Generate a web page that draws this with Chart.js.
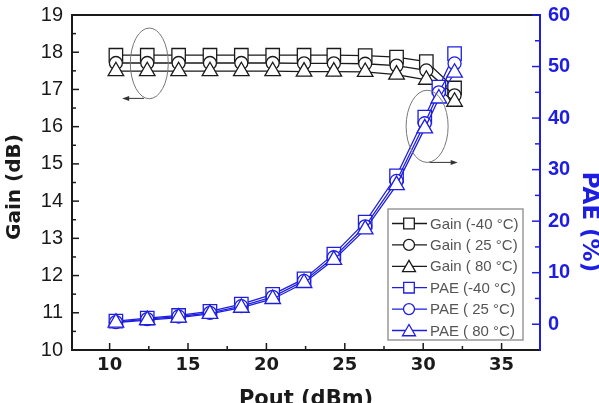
<!DOCTYPE html>
<html>
<head>
<meta charset="utf-8">
<script src="https://cdn.jsdelivr.net/npm/chart.js@4"></script>
<style>
  html, body { margin: 0; padding: 0; background: #fff; }
  #wrap { width: 599px; height: 403px; }
</style>
</head>
<body>
<div id="wrap"><canvas id="chart" width="599" height="403"></canvas></div>
<script>
// Pout (dBm) where gain was sampled, and gain (dB) per temperature
const gainPout = [10.4, 12.4, 14.4, 16.4, 18.4, 20.4, 22.4, 24.3, 26.3, 28.3, 30.2, 32.0];
const gainM40 = [17.92, 17.92, 17.92, 17.92, 17.92, 17.92, 17.92, 17.92, 17.91, 17.87, 17.75, 17.04];
const gain25 = [17.71, 17.71, 17.71, 17.71, 17.71, 17.71, 17.70, 17.70, 17.69, 17.64, 17.51, 16.84];
const gain80 = [17.49, 17.49, 17.49, 17.49, 17.49, 17.49, 17.48, 17.48, 17.47, 17.40, 17.26, 16.67];

// Pout (dBm) where PAE was sampled, and PAE (%) per temperature
const paePout = [10.4, 12.4, 14.4, 16.4, 18.4, 20.4, 22.4, 24.3, 26.3, 28.3, 30.1, 31.0, 32.0];
const paeM40 = [0.6, 1.2, 1.7, 2.5, 3.9, 5.8, 8.8, 13.6, 19.8, 28.8, 40.2, 46.0, 52.5];
const pae25 = [0.4, 1.0, 1.5, 2.2, 3.5, 5.3, 8.4, 13.0, 19.0, 27.8, 39.0, 45.0, 50.6];
const pae80 = [0.3, 0.8, 1.3, 2.0, 3.2, 4.9, 8.0, 12.5, 18.4, 27.0, 38.0, 43.8, 48.8];

const xTicks = [10, 15, 20, 25, 30, 35];
const gainTicks = [10, 11, 12, 13, 14, 15, 16, 17, 18, 19];
const paeTicks = [0, 10, 20, 30, 40, 50, 60];

const seriesLabels = ["Gain (-40 °C)", "Gain ( 25 °C)", "Gain ( 80 °C)",
                      "PAE (-40 °C)", "PAE ( 25 °C)", "PAE ( 80 °C)"];

const BLACK = "#1a1a1a";
const BLUE = "#1e1ee0";
const STYLES = ["rect", "circle", "triangle"];
const RADIUS = { rect: 9.5, circle: 6.5, triangle: 9 };

// callouts: ellipse round a group of curves, arrow toward its axis
const notes = [
  { axis: "y", cx: 12.53, cy: 17.7, rx: 1.21, ry: 0.95, ax0: 12.2, ax1: 10.8, ay: 16.76 },
  { axis: "y1", cx: 30.25, cy: 38.4, rx: 1.34, ry: 7.0, ax0: 30.4, ax1: 32.2, ay: 31.4 },
];

const pts = (xs, ys) => xs.map((x, i) => ({ x, y: ys[i] }));

// order: lower is painted later, so triangles sit on top and PAE over gain
function ds(label, xs, ys, color, style, axis, order) {
  return {
    label, data: pts(xs, ys), yAxisID: axis, order,
    borderColor: color, borderWidth: 1.3, tension: 0,
    pointStyle: style, pointRadius: RADIUS[style], pointHoverRadius: RADIUS[style],
    pointBackgroundColor: "#fff", pointBorderColor: color, pointBorderWidth: 1.3,
  };
}

function shape(ctx, style, x, y, r) {
  ctx.beginPath();
  if (style === "rect") {
    const s = r * Math.SQRT1_2;
    ctx.rect(x - s, y - s, 2 * s, 2 * s);
  } else if (style === "circle") {
    ctx.arc(x, y, r, 0, Math.PI * 2);
  } else {
    let a = 0;
    ctx.moveTo(x + Math.sin(a) * r, y - Math.cos(a) * r);
    a += Math.PI * 2 / 3;
    ctx.lineTo(x + Math.sin(a) * r, y - Math.cos(a) * r);
    a += Math.PI * 2 / 3;
    ctx.lineTo(x + Math.sin(a) * r, y - Math.cos(a) * r);
    ctx.closePath();
  }
}

function tickMarks(ctx, scale, values, len, side) {
  const a = scale.chart.chartArea;
  values.forEach((v) => {
    const p = scale.getPixelForValue(v);
    ctx.beginPath();
    if (side === "bottom") { ctx.moveTo(p, a.bottom); ctx.lineTo(p, a.bottom - len); }
    else if (side === "left") { ctx.moveTo(a.left, p); ctx.lineTo(a.left + len, p); }
    else { ctx.moveTo(a.right, p); ctx.lineTo(a.right - len, p); }
    ctx.stroke();
  });
}

const halves = (ticks) => ticks.slice(0, -1).map((t, i) => (t + ticks[i + 1]) / 2);

const decor = {
  id: "decor",
  afterDraw(chart) {
    const { ctx, chartArea: a, scales: { x, y, y1 } } = chart;
    ctx.save();

    // top frame line
    ctx.strokeStyle = BLACK;
    ctx.lineWidth = 2;
    ctx.beginPath();
    ctx.moveTo(a.left - 1, a.top);
    ctx.lineTo(a.right, a.top);
    ctx.stroke();

    // inward ticks
    ctx.lineWidth = 1.5;
    tickMarks(ctx, x, xTicks, 7, "bottom");
    tickMarks(ctx, x, halves(xTicks), 4, "bottom");
    tickMarks(ctx, y, gainTicks, 7, "left");
    tickMarks(ctx, y, halves(gainTicks), 4, "left");
    ctx.strokeStyle = BLUE;
    tickMarks(ctx, y1, paeTicks, 8, "right");
    tickMarks(ctx, y1, halves(paeTicks), 5, "right");

    // callouts
    ctx.fillStyle = "#333";
    ctx.lineWidth = 1;
    notes.forEach((n) => {
      const ys = chart.scales[n.axis];
      const cx = x.getPixelForValue(n.cx), cy = ys.getPixelForValue(n.cy);
      const rx = Math.abs(x.getPixelForValue(n.cx + n.rx) - cx);
      const ry = Math.abs(ys.getPixelForValue(n.cy + n.ry) - cy);
      ctx.strokeStyle = "#777";
      ctx.beginPath();
      ctx.ellipse(cx, cy, rx, ry, 0, 0, Math.PI * 2);
      ctx.stroke();
      const x0 = x.getPixelForValue(n.ax0), x1 = x.getPixelForValue(n.ax1);
      const ay = ys.getPixelForValue(n.ay);
      const dir = Math.sign(x1 - x0);
      ctx.strokeStyle = "#333";
      ctx.beginPath();
      ctx.moveTo(x0, ay);
      ctx.lineTo(x1 - dir * 5, ay);
      ctx.stroke();
      ctx.beginPath();
      ctx.moveTo(x1, ay);
      ctx.lineTo(x1 - dir * 7, ay - 2.5);
      ctx.lineTo(x1 - dir * 7, ay + 2.5);
      ctx.closePath();
      ctx.fill();
    });

    // legend box
    const bw = 135, bh = 131;
    const bx = a.right - 17 - bw, by = a.bottom - 10 - bh;
    ctx.fillStyle = "#fff";
    ctx.fillRect(bx, by, bw, bh);
    ctx.strokeStyle = "#999";
    ctx.lineWidth = 1.5;
    ctx.strokeRect(bx, by, bw, bh);
    ctx.font = "15px 'Liberation Sans', Arial, sans-serif";
    ctx.textBaseline = "middle";
    seriesLabels.forEach((label, i) => {
      const color = i < 3 ? BLACK : BLUE;
      const style = STYLES[i % 3];
      const ry = by + 14.5 + i * 21.4;
      ctx.strokeStyle = color;
      ctx.lineWidth = 1.3;
      ctx.beginPath();
      ctx.moveTo(bx + 4, ry);
      ctx.lineTo(bx + 39, ry);
      ctx.stroke();
      const r = { rect: 7.5, circle: 5.5, triangle: 7.5 }[style];
      shape(ctx, style, bx + 21, ry + (style === "triangle" ? 1.5 : 0), r);
      ctx.fillStyle = "#fff";
      ctx.fill();
      ctx.stroke();
      ctx.fillStyle = "#555";
      ctx.fillText(label, bx + 42, ry + 1);
    });

    // axis titles
    ctx.fillStyle = BLACK;
    ctx.textAlign = "center";
    ctx.font = "bold 20px 'DejaVu Sans', sans-serif";
    ctx.save();
    ctx.translate(15, 187);
    ctx.rotate(-Math.PI / 2);
    ctx.fillText("Gain (dB)", 0, 0);
    ctx.restore();
    ctx.font = "bold 21px 'DejaVu Sans', sans-serif";
    ctx.fillText("Pout (dBm)", (a.left + a.right) / 2, 400);
    ctx.fillStyle = BLUE;
    ctx.font = "bold 23px 'DejaVu Sans', sans-serif";
    ctx.save();
    ctx.translate(589, 222);
    ctx.rotate(Math.PI / 2);
    ctx.fillText("PAE (%)", 0, 0);
    ctx.restore();

    ctx.restore();
  },
};

const fixTicks = (vals) => (scale) => { scale.ticks = vals.map((v) => ({ value: v })); };
const fitV = (w) => (s) => { s.width = w; s.paddingTop = 0; s.paddingBottom = 0; };
const fitH = (h) => (s) => { s.height = h; s.paddingLeft = 0; s.paddingRight = 0; };
const noGrid = { display: false, drawTicks: false, tickLength: 0 };

new Chart(document.getElementById("chart"), {
  type: "line",
  data: {
    datasets: [
      ds(seriesLabels[0], gainPout, gainM40, BLACK, "rect", "y", 5),
      ds(seriesLabels[1], gainPout, gain25, BLACK, "circle", "y", 4),
      ds(seriesLabels[2], gainPout, gain80, BLACK, "triangle", "y", 3),
      ds(seriesLabels[3], paePout, paeM40, BLUE, "rect", "y1", 2),
      ds(seriesLabels[4], paePout, pae25, BLUE, "circle", "y1", 1),
      ds(seriesLabels[5], paePout, pae80, BLUE, "triangle", "y1", 0),
    ],
  },
  options: {
    responsive: false, animation: false, devicePixelRatio: 1,
    layout: { padding: { top: 15, left: 0, right: 0, bottom: 0 } },
    plugins: { legend: { display: false }, tooltip: { enabled: false } },
    scales: {
      x: {
        type: "linear", position: "bottom", min: 7.6, max: 37.45,
        afterBuildTicks: fixTicks(xTicks),
        afterFit: fitH(53),
        grid: noGrid,
        border: { color: BLACK, width: 2 },
        ticks: {
          color: BLACK, padding: 5, maxRotation: 0,
          font: { family: "'DejaVu Sans', sans-serif", weight: "bold", size: 18 },
        },
      },
      y: {
        type: "linear", position: "left", min: 10, max: 19,
        afterBuildTicks: fixTicks(gainTicks),
        afterFit: fitV(72),
        grid: noGrid,
        border: { color: BLACK, width: 2 },
        ticks: {
          color: BLACK, padding: 9,
          font: { family: "'Liberation Sans', Arial, sans-serif", size: 20 },
        },
      },
      y1: {
        type: "linear", position: "right", min: -5, max: 60,
        afterBuildTicks: fixTicks(paeTicks),
        afterFit: fitV(59),
        grid: noGrid,
        border: { color: BLUE, width: 2 },
        ticks: {
          color: BLUE, padding: 8,
          font: { family: "'Liberation Sans', Arial, sans-serif", weight: "bold", size: 20 },
        },
      },
    },
  },
  plugins: [decor],
});
</script>
</body>
</html>
